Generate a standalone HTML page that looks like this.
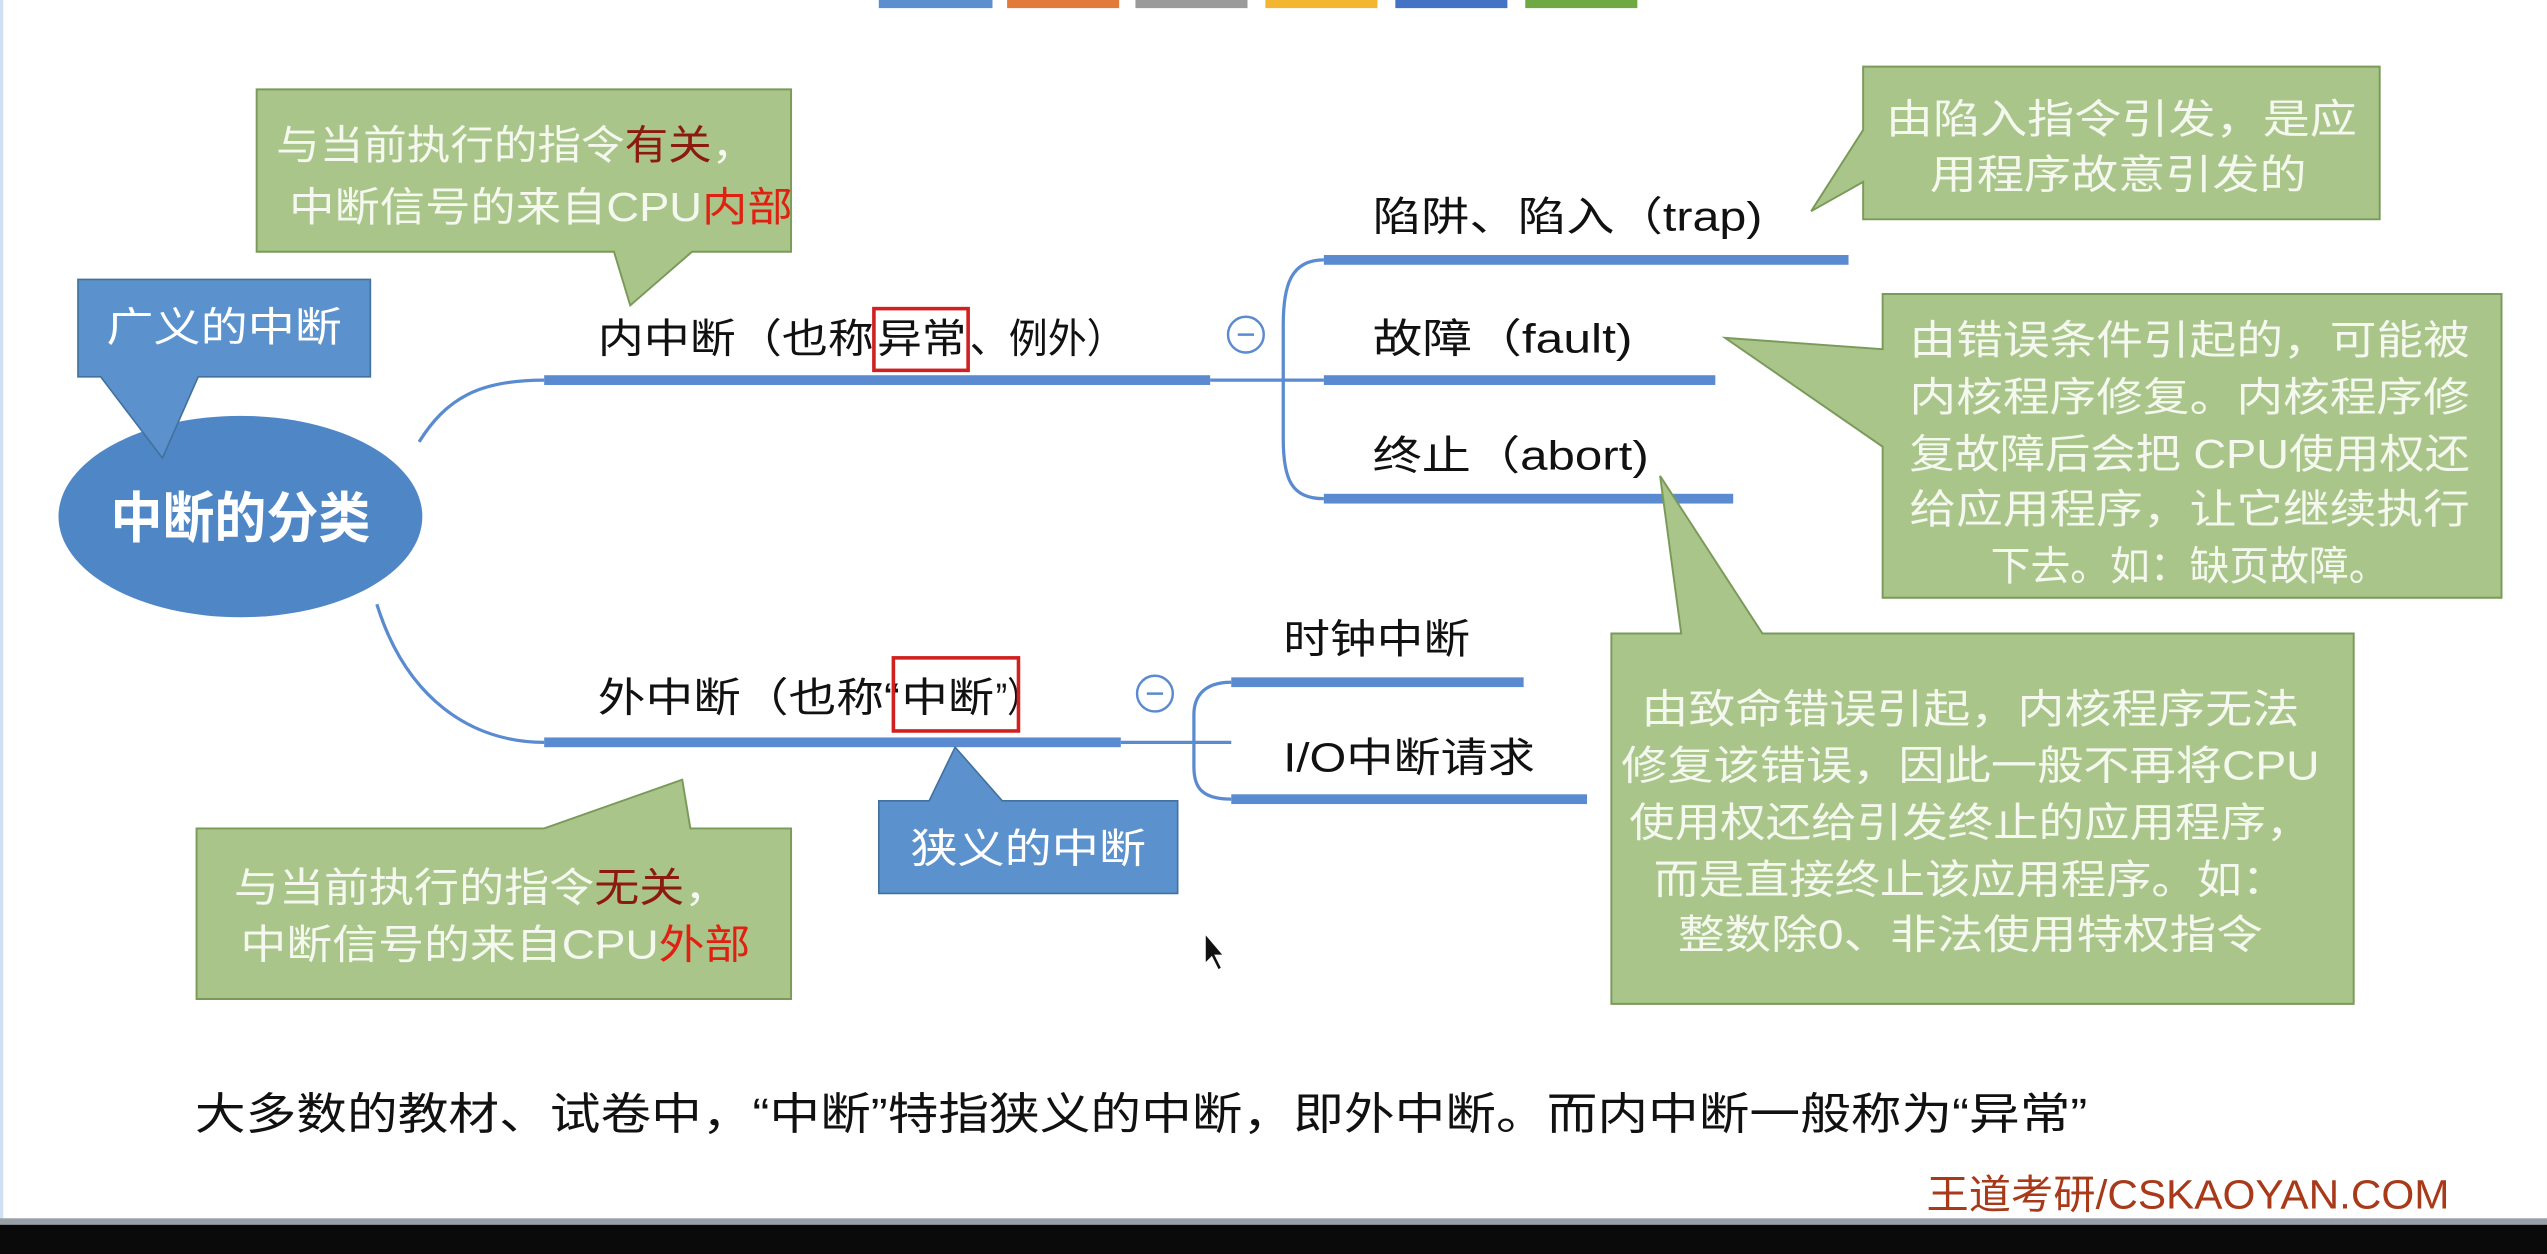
<!DOCTYPE html>
<html><head><meta charset="utf-8"><style>
html,body{margin:0;padding:0;background:#fff;}
svg{display:block;}
text{font-family:"Liberation Sans","Noto Sans CJK SC",sans-serif;}
</style></head><body>
<svg width="2547" height="1254" viewBox="0 0 1568 772" xmlns="http://www.w3.org/2000/svg">
<rect width="1568" height="772" fill="#fff"/>
<rect x="0" y="0" width="2" height="752" fill="#cfe0f2"/>
<!-- top tabs -->
<rect x="541" y="0" width="70" height="5" fill="#5b8fce"/>
<rect x="620" y="0" width="69" height="5" fill="#e07b39"/>
<rect x="699" y="0" width="69" height="5" fill="#9a9a9a"/>
<rect x="779" y="0" width="69" height="5" fill="#f2b630"/>
<rect x="859" y="0" width="69" height="5" fill="#4472c4"/>
<rect x="939" y="0" width="69" height="5" fill="#70a844"/>

<!-- connectors -->
<g fill="none" stroke="#5a8ad0" stroke-width="2">
<path d="M258,272 C275,245 295,234 335,234"/>
<path d="M232,372 C250,430 290,457 335,457"/>
<path d="M745,234 L815,234"/>
<path d="M815,160 C795,160 790,175 790,200 L790,270 C790,295 795,307 815,307"/>
<path d="M690,457 L758,457"/>
<path d="M758,420 C740,420 735,430 735,440 L735,472 C735,485 740,492 758,492"/>
</g>
<g fill="#5a8ad0">
<rect x="335" y="231" width="410" height="6"/>
<rect x="815" y="157" width="323" height="6"/>
<rect x="815" y="231" width="241" height="6"/>
<rect x="815" y="304" width="252" height="6"/>
<rect x="335" y="454" width="355" height="6"/>
<rect x="758" y="417" width="180" height="6"/>
<rect x="758" y="489" width="219" height="6"/>
</g>
<g fill="#fff" stroke="#5a8ad0" stroke-width="1.5">
<circle cx="767" cy="206" r="11"/><circle cx="711" cy="427" r="11"/>
</g>
<g stroke="#5a8ad0" stroke-width="1.5"><line x1="762" y1="206" x2="772" y2="206"/><line x1="706" y1="427" x2="716" y2="427"/></g>

<!-- ellipse -->
<ellipse cx="148" cy="318" rx="112" ry="62" fill="#4f86c6"/>
<text x="148" y="331" font-size="34" font-weight="bold" fill="#fff" text-anchor="middle" textLength="160" lengthAdjust="spacingAndGlyphs">中断的分类</text>

<!-- blue callouts -->
<path d="M48,172 H228 V232 H122 L100,282 L62,232 H48 Z" fill="#5b92cd" stroke="#41719c" stroke-width="1"/>
<text x="138" y="210" font-size="25" fill="#fff" text-anchor="middle" textLength="145" lengthAdjust="spacingAndGlyphs">广义的中断</text>
<path d="M541,493 H572 L588,460 L617,493 H725 V550 H541 Z" fill="#5b92cd" stroke="#41719c" stroke-width="1"/>
<text x="633" y="531" font-size="25" fill="#fff" text-anchor="middle" textLength="145" lengthAdjust="spacingAndGlyphs">狭义的中断</text>

<!-- green callouts -->
<g fill="#a9c58a" stroke="#7a9a5a" stroke-width="1.2">
<path d="M158,55 H487 V155 H426 L388,188 L378,155 H158 Z"/>
<path d="M1147,41 H1465 V135 H1147 V112 L1115,130 L1147,80 Z"/>
<path d="M1159,181 H1540 V368 H1159 V275 L1062,208 L1159,215 Z"/>
<path d="M992,390 H1035 L1022,293 L1085,390 H1449 V618 H992 Z"/>
<path d="M121,510 H335 L420,480 L425,510 H487 V615 H121 Z"/>
</g>
<g font-size="25" fill="#f4f8ee">
<text x="170" y="98" textLength="295" lengthAdjust="spacingAndGlyphs">与当前执行的指令<tspan fill="#8b1a10">有关</tspan>，</text>
<text x="178" y="136" textLength="310" lengthAdjust="spacingAndGlyphs">中断信号的来自CPU<tspan fill="#e02010">内部</tspan></text>
<text x="1306" y="82" text-anchor="middle" textLength="290" lengthAdjust="spacingAndGlyphs">由陷入指令引发，是应</text>
<text x="1304" y="116" text-anchor="middle" textLength="232" lengthAdjust="spacingAndGlyphs">用程序故意引发的</text>
<text x="1348" y="218" text-anchor="middle" textLength="345" lengthAdjust="spacingAndGlyphs">由错误条件引起的，可能被</text>
<text x="1348" y="253" text-anchor="middle" textLength="345" lengthAdjust="spacingAndGlyphs">内核程序修复。内核程序修</text>
<text x="1348" y="288" text-anchor="middle" textLength="345" lengthAdjust="spacingAndGlyphs">复故障后会把 CPU使用权还</text>
<text x="1348" y="322" text-anchor="middle" textLength="345" lengthAdjust="spacingAndGlyphs">给应用程序，让它继续执行</text>
<text x="1348" y="357" text-anchor="middle" textLength="245" lengthAdjust="spacingAndGlyphs">下去。如：缺页故障。</text>
<text x="1213" y="445" text-anchor="middle" textLength="405" lengthAdjust="spacingAndGlyphs">由致命错误引起，内核程序无法</text>
<text x="1213" y="480" text-anchor="middle" textLength="430" lengthAdjust="spacingAndGlyphs">修复该错误，因此一般不再将CPU</text>
<text x="1213" y="515" text-anchor="middle" textLength="420" lengthAdjust="spacingAndGlyphs">使用权还给引发终止的应用程序，</text>
<text x="1213" y="550" text-anchor="middle" textLength="390" lengthAdjust="spacingAndGlyphs">而是直接终止该应用程序。如：</text>
<text x="1213" y="584" text-anchor="middle" textLength="360" lengthAdjust="spacingAndGlyphs">整数除0、非法使用特权指令</text>
<text x="144" y="555" textLength="305" lengthAdjust="spacingAndGlyphs">与当前执行的指令<tspan fill="#8b1a10">无关</tspan>，</text>
<text x="148" y="590" textLength="314" lengthAdjust="spacingAndGlyphs">中断信号的来自CPU<tspan fill="#e02010">外部</tspan></text>
</g>

<!-- branch labels -->
<g font-size="25" fill="#111">
<text x="368" y="217" textLength="170" lengthAdjust="spacingAndGlyphs">内中断（也称</text>
<text x="540" y="217" textLength="55" lengthAdjust="spacingAndGlyphs">异常</text>
<text x="597" y="217" textLength="96" lengthAdjust="spacingAndGlyphs">、例外）</text>
<text x="845" y="142" textLength="240" lengthAdjust="spacingAndGlyphs">陷阱、陷入（trap)</text>
<text x="845" y="217" textLength="160" lengthAdjust="spacingAndGlyphs">故障（fault)</text>
<text x="845" y="289" textLength="170" lengthAdjust="spacingAndGlyphs">终止（abort)</text>
<text x="368" y="438" textLength="186" lengthAdjust="spacingAndGlyphs">外中断（也称“</text>
<text x="555" y="438" textLength="57" lengthAdjust="spacingAndGlyphs">中断</text>
<text x="613" y="438" textLength="28" lengthAdjust="spacingAndGlyphs">”）</text>
<text x="790" y="402" textLength="115" lengthAdjust="spacingAndGlyphs">时钟中断</text>
<text x="790" y="475" textLength="155" lengthAdjust="spacingAndGlyphs">I/O中断请求</text>
</g>
<g fill="none" stroke="#d02020" stroke-width="2.2">
<rect x="538" y="190" width="58" height="38"/>
<rect x="550" y="405" width="77" height="45"/>
</g>

<text x="120" y="695" font-size="27" fill="#111" textLength="1165" lengthAdjust="spacingAndGlyphs">大多数的教材、试卷中，“中断”特指狭义的中断，即外中断。而内中断一般称为“异常”</text>
<text x="1186" y="744" font-size="25" fill="#a83a1a" textLength="322" lengthAdjust="spacingAndGlyphs">王道考研/CSKAOYAN.COM</text>

<!-- cursor -->
<path d="M742,575 L742,593 L746,589 L750,597 L752,596 L748,588 L753,588 Z" fill="#111" stroke="#fff" stroke-width="0.6"/>

<!-- bottom bar -->
<rect x="0" y="750" width="1568" height="4" fill="#9aa0a8"/>
<rect x="0" y="754" width="1568" height="18" fill="#0a0a0a"/>
</svg>
</body></html>
